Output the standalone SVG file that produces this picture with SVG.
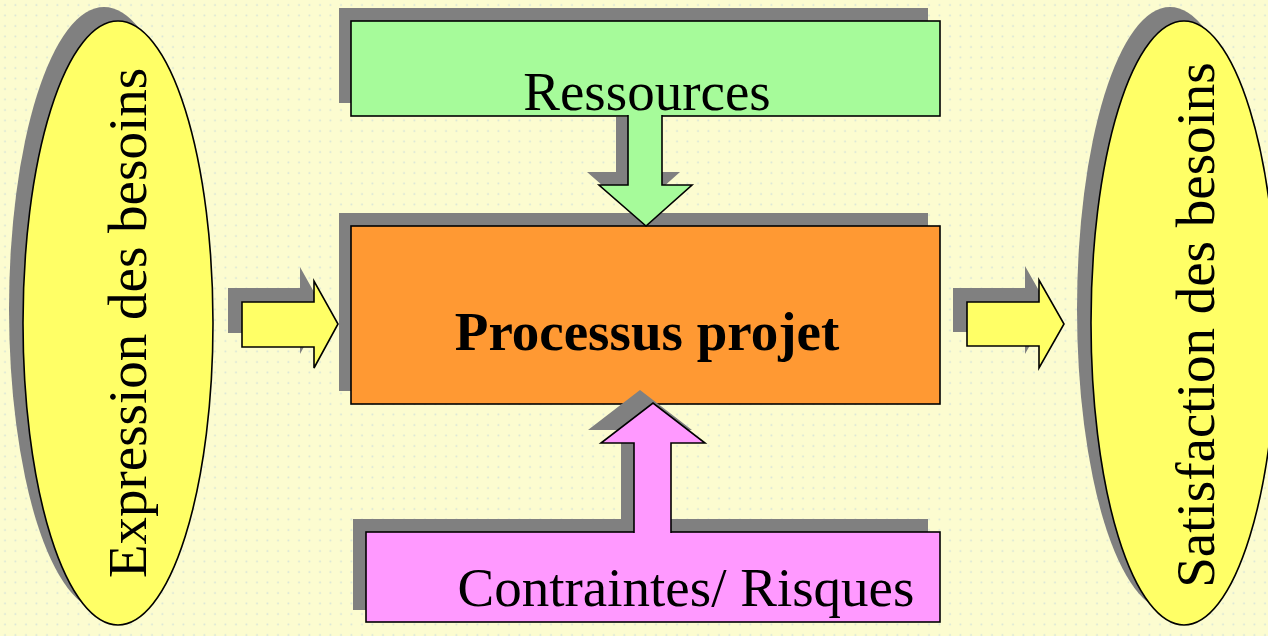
<svg xmlns="http://www.w3.org/2000/svg" width="1268" height="636" viewBox="0 0 1268 636">
<defs>
<pattern id="dots" width="10.5" height="10.5" patternUnits="userSpaceOnUse">
<rect width="10.5" height="10.5" fill="#FCFCD0"/>
<circle cx="5" cy="5" r="0.9" fill="#D5E3D8"/>
</pattern>
</defs>
<style>
.sh{fill:#808080;stroke:none}
.ln{stroke:#000;stroke-width:1.6}
.t{font-family:"Liberation Serif","Times New Roman",serif;font-size:55px;fill:#000}
</style>
<rect width="1268" height="636" fill="url(#dots)"/>

<g id="expression">
<ellipse class="sh" cx="104" cy="309" rx="95" ry="302"/>
<ellipse class="ln" cx="118" cy="323" rx="95" ry="302" fill="#FFFF66"/>
<text class="t" transform="translate(146,323) rotate(-90)" text-anchor="middle">Expression des besoins</text>
</g>

<g id="satisfaction">
<ellipse class="sh" cx="1170" cy="309" rx="93" ry="302"/>
<ellipse class="ln" cx="1184" cy="323" rx="93" ry="302" fill="#FFFF66"/>
<text class="t" transform="translate(1214,325) rotate(-90)" text-anchor="middle">Satisfaction des besoins</text>
</g>

<g id="ressources">
<rect class="sh" x="339" y="8" width="589" height="95"/>
<rect class="ln" x="351" y="21" width="589" height="95" fill="#A6FB9A"/>
<text class="t" x="647" y="110" text-anchor="middle">Ressources</text>
</g>

<g id="processus">
<rect class="sh" x="339" y="213" width="589" height="178"/>
<rect class="ln" x="351" y="226" width="589" height="178" fill="#FF9933"/>
<text class="t" x="647" y="350" text-anchor="middle" font-weight="bold">Processus projet</text>
</g>

<g id="contraintes">
<rect class="sh" x="353" y="519" width="575" height="91"/>
<rect class="ln" x="366" y="532" width="574" height="90" fill="#FF99FF"/>
<text class="t" x="686" y="606" text-anchor="middle">Contraintes/ Risques</text>
</g>

<g id="connectors">
<polygon class="sh" points="616,117 628,117 628,172 680,172 634,213 587,172 616,172"/>
<path class="ln" d="M628,115 L628,185 L599,185 L646,226 L692,185 L662,185 L662,115" fill="#A6FB9A"/>
<polygon class="sh" points="621,521 621,430 588,430 640,390 692,430 658,430 658,521"/>
<path class="ln" d="M634,533 L634,443 L601,443 L653,403 L705,443 L671,443 L671,533" fill="#FF99FF"/>
<polygon class="sh" points="228,288 300,288 300,267 324,310 300,354 300,333 228,333"/>
<polygon class="ln" points="242,302 314,302 314,281 338,324 314,368 314,347 242,347" fill="#FFFF66"/>
<polygon class="sh" points="953,288 1025,288 1025,266 1050,310 1025,354 1025,332 953,332"/>
<polygon class="ln" points="967,302 1039,302 1039,280 1064,324 1039,368 1039,346 967,346" fill="#FFFF66"/>
</g>
</svg>
